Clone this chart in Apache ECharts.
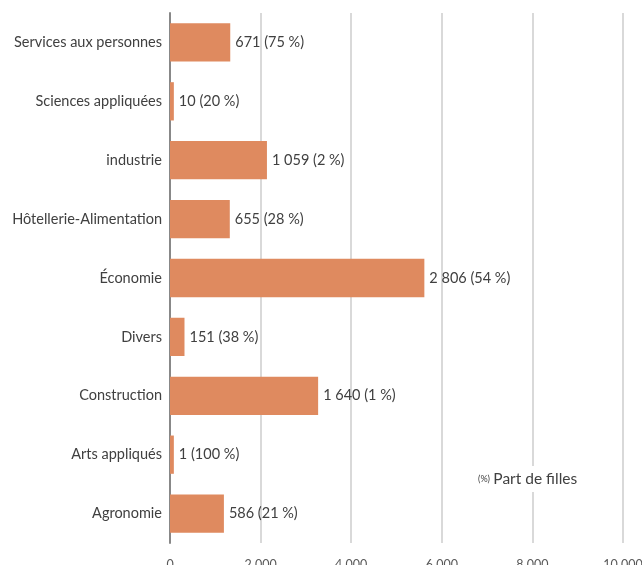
<!DOCTYPE html>
<html>
<head>
<meta charset="utf-8">
<script src="https://cdn.jsdelivr.net/npm/echarts@6/dist/echarts.min.js"></script>
<style>
  html, body { margin: 0; padding: 0; background: #fff; }
  #chart { width: 642px; height: 565px; }
</style>
</head>
<body>
<div id="chart"></div>
<script>
// categories from top to bottom
const categories = [
  'Services aux personnes',
  'Sciences appliquées',
  'industrie',
  'Hôtellerie-Alimentation',
  'Économie',
  'Divers',
  'Construction',
  'Arts appliqués',
  'Agronomie'
]
// bar lengths
const barValues = [1330, 85, 2140, 1320, 5615, 320, 3270, 85, 1190]
// text printed next to each bar
const barLabels = [
  '671 (75 %)',
  '10 (20 %)',
  '1 059 (2 %)',
  '655 (28 %)',
  '2 806 (54 %)',
  '151 (38 %)',
  '1 640 (1 %)',
  '1 (100 %)',
  '586 (21 %)'
]
const xTicks = [0, 2000, 4000, 6000, 8000, 10000]

const fontFamily = 'Lato, "Open Sans", sans-serif'
const textColor = '#404040'

const option = {
  animation: false,
  grid: {
    left: 170,
    right: 19,
    top: 13,
    bottom: 22,
    containLabel: false,
    outerBoundsMode: 'none'
  },
  xAxis: {
    type: 'value',
    min: xTicks[0],
    max: xTicks[xTicks.length - 1],
    interval: 2000,
    axisLine: { show: false },
    axisTick: { show: false },
    splitLine: { lineStyle: { color: '#d9d9d9', width: 2 } },
    axisLabel: {
      margin: 15,
      color: '#595959',
      fontFamily: fontFamily,
      fontSize: 12.5,
      formatter: (v) => String(v).replace(/\B(?=(\d{3})+(?!\d))/g, ' ')
    }
  },
  yAxis: {
    type: 'category',
    inverse: true,
    data: categories,
    axisLine: { show: true, lineStyle: { color: '#888888', width: 2 } },
    axisTick: { show: false },
    axisLabel: {
      margin: 8,
      color: textColor,
      fontFamily: fontFamily,
      fontSize: 14.5
    }
  },
  series: [
    {
      type: 'bar',
      data: barValues,
      barWidth: '65%',
      itemStyle: { color: '#df8a5f' },
      label: {
        show: true,
        position: 'right',
        distance: 5,
        color: textColor,
        fontFamily: fontFamily,
        fontSize: 14.5,
        formatter: (p) => barLabels[p.dataIndex]
      }
    }
  ],
  graphic: [
    {
      type: 'text',
      left: 474,
      top: 466,
      z: 100,
      style: {
        text: '{s|(%)} {b|Part de filles}',
        backgroundColor: '#ffffff',
        padding: [5, 4],
        rich: {
          s: { fontSize: 9, fill: textColor, fontFamily: fontFamily },
          b: { fontSize: 15.5, fill: textColor, fontFamily: fontFamily }
        }
      }
    }
  ]
}

const chart = echarts.init(document.getElementById('chart'), null, { renderer: 'canvas' })
chart.setOption(option)
</script>
</body>
</html>
